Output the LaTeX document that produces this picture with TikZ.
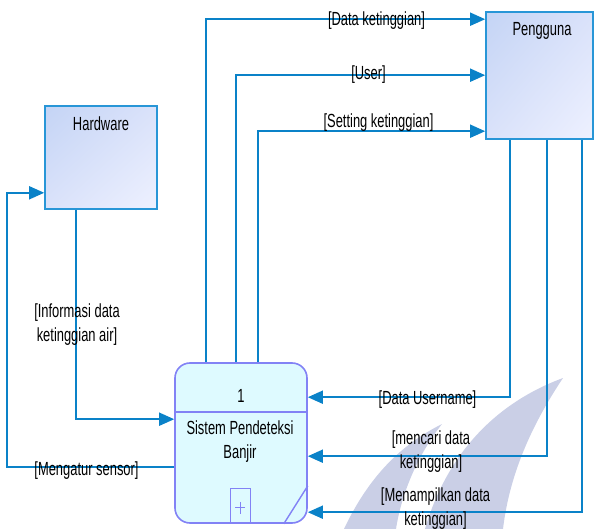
\documentclass[tikz,border=0pt]{standalone}
\usepackage{fontspec}
\setmainfont{Liberation Sans}[FakeStretch=0.68]
\usetikzlibrary{arrows.meta,calc,shadings}
\definecolor{flowc}{RGB}{10,130,200}
\definecolor{entb}{RGB}{40,150,215}
\definecolor{entA}{RGB}{196,212,245}
\definecolor{entM}{RGB}{218,226,250}
\definecolor{entB}{RGB}{238,241,255}
\definecolor{procb}{RGB}{130,130,245}
\definecolor{procf}{RGB}{222,250,255}
\definecolor{wmark}{RGB}{202,207,230}
\begin{document}
\begin{tikzpicture}[x=1pt,y=-1pt,
  lbl/.style={font=\fontsize{19}{24}\selectfont, align=center, inner sep=0pt, text=black, anchor=base},
  entity/.style={draw=entb, line width=1.6pt, upper left=entA, upper right=entM, lower left=entM, lower right=entB, inner sep=0pt},
  procbox/.style={draw=procb, fill=procf, line width=1.6pt, rounded corners=15pt, inner sep=0pt},
  procline/.style={draw=procb, line width=1.4pt},
  flow/.style={draw=flowc, line width=1.7pt, -{Triangle[length=15pt,width=13pt]}}
]
\useasboundingbox (0,0) rectangle (594,529);

% watermark
\fill[wmark] (344,529) .. controls (368,478) and (400,445) .. (442,424) .. controls (420,452) and (402,490) .. (396,529) -- cycle;
\fill[wmark] (425,529) .. controls (445,460) and (490,405) .. (563,378) .. controls (535,420) and (510,470) .. (503,529) -- cycle;

% entities
\node[entity, minimum width=112pt, minimum height=103pt] (hw) at (101,157.5) {};
\node[lbl] (hwt) at (101,131) {Hardware};
\node[entity, minimum width=107pt, minimum height=127pt] (pg) at (539.5,75.5) {};
\node[lbl] (pgt) at (542,36) {Pengguna};

% process
\node[procbox, minimum width=132pt, minimum height=160pt] (proc) at (241,443) {};
\draw[procline] (proc.west |- 0,412) -- (proc.east |- 0,412);
\draw[procline] ($(proc.south east)+(-24,0)$) -- ($(proc.south east)+(0,-38)$);
\node[lbl] (pnum) at (241,402) {1};
\node[lbl] (pname) at (240,458) {Sistem Pendeteksi\\Banjir};
\node[draw=procb, line width=1pt, minimum width=20pt, minimum height=35pt, inner sep=0pt, anchor=south] (plus) at ($(proc.south)+(-1,0)$) {};
\draw[procb, line width=0.8pt] ($(plus.center)+(-5,2)$) -- ($(plus.center)+(5,2)$);
\draw[procb, line width=0.8pt] ($(plus.center)+(0,-4)$) -- ($(plus.center)+(0,8)$);

% connectors from process to Pengguna
\coordinate (t1) at ($(proc.north west)+(32,0)$);
\coordinate (t2) at ($(proc.north west)+(62,0)$);
\coordinate (t3) at ($(proc.north west)+(84,0)$);
\draw[flow] (t1) |- ($(pg.north west)+(0,8)$);
\draw[flow] (t2) |- ($(pg.north west)+(0,64)$);
\draw[flow] (t3) |- ($(pg.north west)+(0,120)$);
\node[lbl] (l1) at (376.5,26) {[Data ketinggian]};
\node[lbl] (l2) at (368.5,80) {[User]};
\node[lbl] (l3) at (378.5,128) {[Setting ketinggian]};

% connectors from Pengguna to process
\coordinate (b1) at ($(pg.south west)+(25,0)$);
\coordinate (b2) at ($(pg.south west)+(62,0)$);
\coordinate (b3) at ($(pg.south west)+(97,0)$);
\draw[flow] (b1) |- ($(proc.north east)+(0,35)$);
\draw[flow] (b2) |- ($(proc.north east)+(0,94)$);
\draw[flow] (b3) |- ($(proc.north east)+(0,150)$);
\node[lbl] (l4) at (427.5,404) {[Data Username]};
\node[lbl] (l5) at (431,468) {[mencari data\\ketinggian]};
\node[lbl] (l6) at (435.5,525) {[Menampilkan data\\ketinggian]};

% Hardware connectors
\coordinate (h1) at ($(hw.south west)+(32,0)$);
\draw[flow] (h1) |- ($(proc.north west)+(0,57)$);
\node[lbl] (l7) at (77,341) {[Informasi data\\ketinggian air]};
\coordinate (m1) at ($(proc.north west)+(0,105)$);
\coordinate (m2) at ($(hw.south west)+(-37,-17)$);
\draw[flow] (m1) -| (m2) -- (hw.west |- m2);
\node[lbl] (l8) at (86.5,475) {[Mengatur sensor]};
\end{tikzpicture}
\end{document}
